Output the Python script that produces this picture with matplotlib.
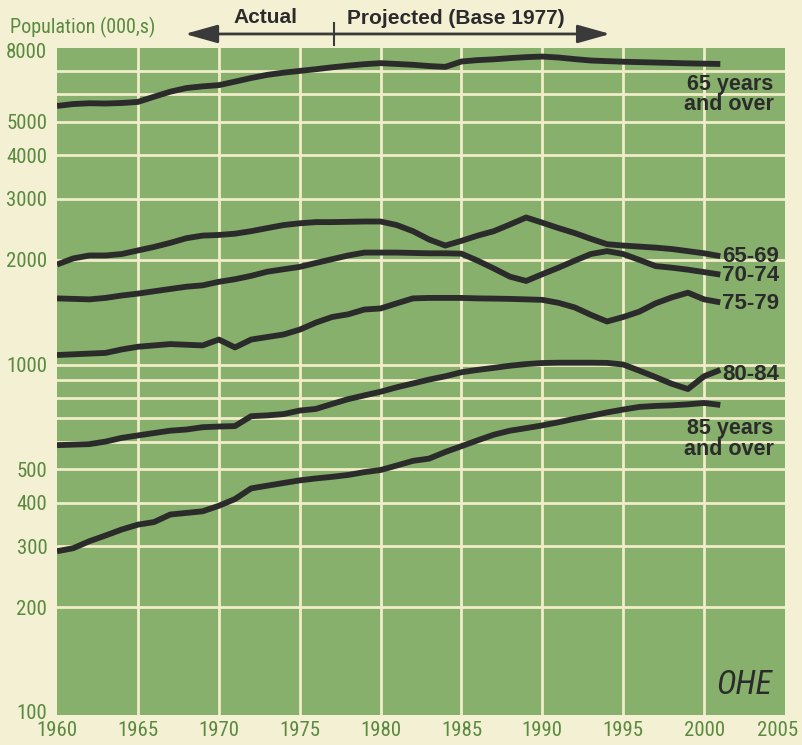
import numpy as np
import matplotlib.pyplot as plt
from matplotlib import font_manager as fm
from matplotlib.transforms import blended_transform_factory, ScaledTranslation

# Population by age group, thousands (actual to 1977, projected after)
years = np.arange(1960, 2002)

age_65_over = [5550, 5620, 5650, 5640, 5660, 5700, 5900, 6100, 6250, 6320,
               6370, 6520, 6680, 6820, 6920, 7000, 7080, 7170, 7250, 7320,
               7370, 7330, 7290, 7230, 7190, 7450, 7520, 7560, 7620, 7670,
               7700, 7650, 7570, 7500, 7470, 7440, 7420, 7400, 7380, 7360,
               7345, 7330]
age_65_69 = [1940, 2020, 2060, 2060, 2080, 2130, 2180, 2240, 2310, 2350,
             2360, 2380, 2420, 2470, 2520, 2550, 2570, 2570, 2575, 2580,
             2580, 2520, 2420, 2290, 2200, 2270, 2350, 2420, 2530, 2650,
             2560, 2470, 2390, 2300, 2220, 2200, 2185, 2170, 2150, 2120,
             2090, 2050]
age_70_74 = [1550, 1545, 1540, 1555, 1580, 1600, 1625, 1650, 1675, 1690,
             1730, 1760, 1800, 1850, 1880, 1910, 1960, 2010, 2060, 2100,
             2100, 2100, 2095, 2090, 2090, 2085, 1990, 1890, 1790, 1740,
             1820, 1900, 1990, 2080, 2120, 2080, 2000, 1920, 1900, 1875,
             1845, 1815]
age_75_79 = [1065, 1070, 1075, 1080, 1105, 1125, 1135, 1145, 1140, 1135,
             1180, 1120, 1180, 1200, 1220, 1260, 1320, 1370, 1395, 1440,
             1450, 1500, 1550, 1555, 1555, 1555, 1550, 1548, 1545, 1540,
             1535, 1505, 1460, 1390, 1330, 1370, 1420, 1500, 1560, 1610,
             1540, 1510]
age_80_84 = [586, 588, 590, 600, 615, 625, 635, 645, 650, 660,
             663, 665, 710, 714, 720, 737, 745, 770, 795, 815,
             835, 860, 882, 905, 925, 950, 965, 978, 992, 1003,
             1010, 1012, 1012, 1012, 1011, 1000, 960, 920, 880, 850,
             925, 965]
age_85_over = [290, 296, 310, 322, 335, 346, 352, 370, 374, 378,
               392, 410, 440, 448, 456, 464, 470, 475, 481, 490,
               497, 512, 528, 536, 560, 582, 605, 628, 645, 656,
               668, 682, 698, 712, 728, 742, 755, 760, 763, 768,
               775, 765]

ytick_values = [100, 200, 300, 400, 500, 1000, 2000, 3000, 4000, 5000, 8000]
hgrid_values = [200, 300, 400, 500, 600, 700, 800, 900,
                1000, 2000, 3000, 4000, 5000, 6000, 7000]
xtick_values = [1960, 1965, 1970, 1975, 1980, 1985, 1990, 1995, 2000, 2005]

PAPER = '#f4f0d4'
PANEL = '#86b06c'
GRID = '#f1ecc9'
TICK_GREEN = '#5a8a3e'
INK = '#2b2b2b'
BOLD = ['Liberation Sans', 'DejaVu Sans']


def narrow_font():
    """Pick a condensed sans face if one is installed, else a plain one."""
    names = {f.name for f in fm.fontManager.ttflist}
    for cand in ['Liberation Sans Narrow', 'Roboto Condensed', 'Open Sans Condensed',
                 'DejaVu Sans Condensed', 'Noto Sans Condensed']:
        if cand in names:
            return dict(family=[cand], stretch='normal', size=15)
    for f in fm.fontManager.ttflist:
        if f.name == 'DejaVu Sans' and f.stretch in ('condensed', 'semi-condensed'):
            return dict(family=['DejaVu Sans'], stretch='condensed', size=14)
    return dict(family=['Liberation Sans', 'DejaVu Sans'], stretch='normal', size=13.5)


NARROW = narrow_font()

fig = plt.figure(figsize=(8.02, 7.45), dpi=100, facecolor=PAPER)
ax = fig.add_axes([0.0711, 0.0403, 0.9077, 0.8953])
ax.set_facecolor(PANEL)
ax.set_yscale('log')
ax.set_xlim(1960, 2005)
ax.set_ylim(98, 8150)

for v in hgrid_values:
    ax.axhline(v, color=GRID, lw=2.0, zorder=1)
for yr in xtick_values[1:-1]:
    ax.axvline(yr, color=GRID, lw=2.0, zorder=1)

for s in ax.spines.values():
    s.set_visible(False)

ax.set_yticks(ytick_values)
ax.set_yticklabels([str(v) for v in ytick_values])
ax.yaxis.set_minor_locator(plt.NullLocator())
ax.set_xticks(xtick_values)
ax.set_xticklabels([str(v) for v in xtick_values])
ax.tick_params(axis='y', length=0, pad=7)
ax.tick_params(axis='x', length=0, pad=4)
for lab in ax.get_xticklabels() + ax.get_yticklabels():
    lab.set_family(NARROW['family'])
    lab.set_stretch(NARROW['stretch'])
    lab.set_fontsize(NARROW['size'])
    lab.set_color(TICK_GREEN)

# the last year label sits at the page edge, nudge it inward
last = ax.get_xticklabels()[-1]
last.set_transform(last.get_transform() + ScaledTranslation(-5 / 72, 0, fig.dpi_scale_trans))

series = [
    (age_65_over, None, 0),
    (age_65_69, '65-69', 0),
    (age_70_74, '70-74', -1),
    (age_75_79, '75-79', -1),
    (age_80_84, '80-84', -3),
    (age_85_over, None, 0),
]
for vals, name, dy in series:
    ax.plot(years, vals, color=INK, lw=4.2, solid_joinstyle='round',
            solid_capstyle='butt', zorder=3)
    if name:
        ax.annotate(name, xy=(years[-1], vals[-1]), xytext=(1.2, dy),
                    textcoords='offset points', ha='left', va='center',
                    fontsize=16, fontweight='bold', color=INK, family=BOLD,
                    annotation_clip=False)

ax.text(2004.3, 6000, '65 years\nand over', ha='right', va='center',
        fontsize=15.5, fontweight='bold', color=INK, family=BOLD,
        linespacing=0.95, zorder=4)
ax.text(2004.3, 610, '85 years\nand over', ha='right', va='center',
        fontsize=15.5, fontweight='bold', color=INK, family=BOLD,
        linespacing=0.95, zorder=4)

# header: actual / projected arrow
trans = blended_transform_factory(ax.transData, ax.transAxes)
ax.annotate('', xy=(1967.9, 1.021), xytext=(1994.2, 1.021),
            xycoords=trans, textcoords=trans,
            arrowprops=dict(arrowstyle='<|-|>,head_length=1.0,head_width=0.28',
                            mutation_scale=20, color='#3a3a3a', lw=2,
                            shrinkA=0, shrinkB=0),
            annotation_clip=False)
ax.plot([1977.1, 1977.1], [1.004, 1.037], transform=trans, color='#3a3a3a',
        lw=1.5, clip_on=False)
ax.text(1972.9, 1.046, 'Actual', transform=trans, ha='center', va='center',
        fontsize=15, fontweight='bold', color=INK, family=BOLD)
ax.text(1977.9, 1.044, 'Projected (Base 1977)', transform=trans, ha='left',
        va='center', fontsize=15, fontweight='bold', color=INK, family=BOLD)

fig.text(10 / 802, 1 - 27 / 745, 'Population (000,s)', ha='left', va='center',
         fontsize=NARROW['size'] - 0.5, color=TICK_GREEN,
         family=NARROW['family'], stretch=NARROW['stretch'])

# publisher mark in the corner
ax.text(2002.5, 0.045, 'OHE', transform=trans, ha='center', va='center',
        fontsize=24, fontstyle='italic', color=INK, family=NARROW['family'],
        stretch=NARROW['stretch'], zorder=4)

fig.savefig('out.png', dpi=100, facecolor=PAPER)
